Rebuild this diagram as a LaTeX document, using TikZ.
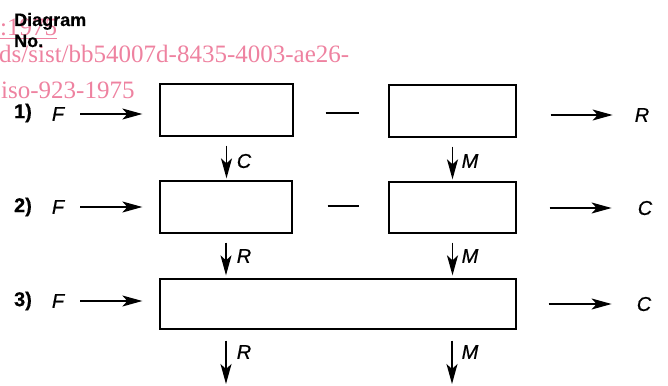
\documentclass[tikz,border=0pt]{standalone}
\usepackage{fontspec}
\setmainfont{Liberation Sans}
\newfontfamily\wmfont{Liberation Serif}
\newfontfamily\labfont[FakeBold=0.6]{Liberation Sans}
\newfontfamily\hdfont[FakeBold=0.5]{Liberation Sans}
\usetikzlibrary{arrows.meta}
\definecolor{wmpink}{RGB}{238,130,160}
\tikzset{
  blk/.style={draw, line width=1.3pt, inner sep=0pt},
  arr/.style={line width=1.5pt, -{Stealth[length=20pt,width=11pt,inset=5pt]}},
  dsh/.style={line width=1.2pt},
  lbl/.style={inner sep=0pt, font=\fontsize{20}{20}\selectfont\labfont\itshape},
  num/.style={inner sep=0pt, font=\fontsize{20}{20}\selectfont\hdfont\bfseries},
  hdr/.style={inner sep=0pt, anchor=base west, font=\fontsize{18}{18}\selectfont\hdfont\bfseries},
  wm/.style={inner sep=0pt, anchor=base west, text=wmpink, font=\fontsize{25}{25}\selectfont\wmfont},
}
\begin{document}
\begin{tikzpicture}[x=1pt,y=-1pt]
\useasboundingbox (0,0) rectangle (668,385);
% watermark
\node[wm] (w1) at (0,36) {\underline{:1975}};
\node[wm] (w2) at (-1,63) {ds/sist/bb54007d-8435-4003-ae26-};
\node[wm] (w3) at (1,99) {iso-923-1975};
% heading
\node[hdr] (hd) at (14,26) {Diagram};
\node[hdr] (hn) at (14,47) {No.};
% boxes
\node[blk, minimum width=133pt, minimum height=52pt] (b1) at (226.5,110) {};
\node[blk, minimum width=127pt, minimum height=52pt] (b2) at (452.5,111) {};
\node[blk, minimum width=132pt, minimum height=52pt] (b3) at (226,207) {};
\node[blk, minimum width=127pt, minimum height=51pt] (b4) at (452.5,207.5) {};
\node[blk, minimum width=356pt, minimum height=50pt] (b5) at (338,304) {};
% row labels
\node[num] (n1) at (23,113) {1)};
\node[num] (n2) at (23,207) {2)};
\node[num] (n3) at (23,301) {3)};
\node[lbl] (f1) at (58,114) {F};
\node[lbl] (f2) at (58,207) {F};
\node[lbl] (f3) at (58,301) {F};
% outputs
\node[lbl] (o1) at (642,115) {R};
\node[lbl] (o2) at (645,208) {C};
\node[lbl] (o3) at (644,304) {C};
% input arrows
\draw[arr, shorten <=16pt, shorten >=17pt] (f1) -- (f1 -| b1.west);
\draw[arr, shorten <=16pt, shorten >=17pt] (f2) -- (f2 -| b3.west);
\draw[arr, shorten <=16pt, shorten >=17pt] (f3) -- (f3 -| b5.west);
% dashes
\draw[dsh, shorten <=32pt, shorten >=29pt] (b1.east |- 0,113) -- (b2.west |- 0,113);
\draw[dsh, shorten <=35pt, shorten >=29pt] (b3.east |- 0,206) -- (b4.west |- 0,206);
% output arrows
\draw[arr, shorten <=34pt, shorten >=22pt] (b2.east |- o1) -- (o1);
\draw[arr, shorten <=33pt, shorten >=26pt] (b4.east |- o2) -- (o2);
\draw[arr, shorten <=32pt, shorten >=25pt] (b5.east |- o3) -- (o3);
% vertical arrows
\draw[arr, shorten <=9pt, shorten >=2pt] (b1.south) -- (b1.south |- b3.north);
\draw[arr, shorten <=9pt, shorten >=2pt] (b2.south) -- (b2.south |- b4.north);
\draw[arr, shorten <=9pt, shorten >=3pt] (b3.south) -- (b3.south |- b5.north);
\draw[arr, shorten <=9pt, shorten >=3pt] (b4.south) -- (b4.south |- b5.north);
\coordinate (e1) at (226,384);
\coordinate (e2) at (452,384);
\draw[arr, shorten <=11pt] (e1 |- b5.south) -- (e1);
\draw[arr, shorten <=11pt] (e2 |- b5.south) -- (e2);
% arrow labels
\node[lbl] (l1) at (244,161) {C};
\node[lbl] (l2) at (470,161) {M};
\node[lbl] (l3) at (244,256) {R};
\node[lbl] (l4) at (470,256) {M};
\node[lbl] (l5) at (244,352) {R};
\node[lbl] (l6) at (470,352) {M};
\end{tikzpicture}
\end{document}
